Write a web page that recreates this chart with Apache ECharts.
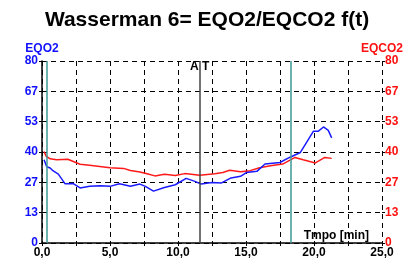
<!DOCTYPE html>
<html><head><meta charset="utf-8">
<script src="https://cdn.jsdelivr.net/npm/echarts@6/dist/echarts.min.js"></script>
<style>html,body{margin:0;padding:0;background:#fff}#c{width:414px;height:261px}</style>
</head><body><div id="c"></div>
<script>
const titleText = 'Wasserman 6= EQO2/EQCO2 f(t)';
const yTicks = [0, 13, 27, 40, 53, 67, 80];
const eqo2Time = [0.15,0.35,0.6,0.8,1.2,1.7,2.3,2.8,3.5,4.3,5.0,5.7,6.5,7.2,7.6,8.2,9.0,9.8,10.6,11.25,11.7,12.5,13.2,13.9,14.6,15.05,15.8,16.4,17.5,18.2,19.0,19.5,19.95,20.3,20.7,21.05,21.3];
const eqo2 = [36.6,33.5,33,31.8,30.3,26.0,26.1,24.2,24.9,25.2,24.9,26.0,24.9,25.9,24.9,22.8,24.4,25.6,28.4,27.1,25.9,26.6,26.4,28.6,29.3,31.0,31.5,34.7,35.4,37.6,39.8,44.7,49.1,49.1,51.0,49.5,46.2];
const eqco2Time = [0.15,0.3,0.6,1.08,1.9,2.8,3.5,5.0,6.0,6.5,7.2,7.8,8.3,9.0,9.8,10.5,11.6,12.7,13.3,13.8,14.6,15.3,16.0,16.8,17.7,18.6,19.2,20.1,20.8,21.3];
const eqco2 = [40.2,38.2,37.0,36.6,36.8,34.6,34.2,33.1,32.8,31.9,31.2,30.3,29.5,30.2,29.7,30.5,29.8,30.4,31.0,32.0,31.3,31.8,33.1,34.0,34.7,37.6,36.6,35.2,37.6,37.2];
const markers = [{t:0.35, c:'#3d9995'}, {t:11.6, c:'#444444'}, {t:18.3, c:'#3d9995'}];
const atLabel = 'A T';
const atTime = 11.6;

const chart = echarts.init(document.getElementById('c'), null, {renderer:'canvas'});
const font = 'Liberation Sans, Arial, sans-serif';
const dash = {type:[5,4], color:'#000', width:1};
const yFmt = v => String(Math.round(v));
const option = {
  animation:false,
  title:{text:titleText, left:'center', top:5, textStyle:{fontFamily:font, fontSize:21, fontWeight:'bold', color:'#000'}},
  grid:{left:42, right:32, top:61, bottom:18, containLabel:false},
  xAxis:{type:'value', min:0, max:25, interval:2.5,
    axisLine:{show:true, lineStyle:{color:'#000', width:1.5}},
    axisTick:{show:true, length:3, lineStyle:{color:'#000'}},
    axisLabel:{fontFamily:font, fontSize:12, fontWeight:'bold', color:'#000', margin:4,
      formatter: v => (Math.abs(v % 5) < 1e-6 ? v.toFixed(1).replace('.', ',') : '')},
    splitLine:{show:true, lineStyle:dash}},
  yAxis:[
    {type:'value', min:0, max:80, interval:80/6, position:'left',
      name:'EQO2', nameLocation:'end', nameGap:5,
      nameTextStyle:{fontFamily:font, fontSize:12, fontWeight:'bold', color:'#1010ff', align:'center'},
      axisLine:{show:true, lineStyle:{color:'#000', width:1.5}},
      axisTick:{show:true, length:3, lineStyle:{color:'#000'}},
      axisLabel:{fontFamily:font, fontSize:12, fontWeight:'bold', color:'#1010ff', margin:4, formatter:yFmt},
      splitLine:{show:true, lineStyle:dash}},
    {type:'value', min:0, max:80, interval:80/6, position:'right',
      name:'EQCO2', nameLocation:'end', nameGap:5,
      nameTextStyle:{fontFamily:font, fontSize:12, fontWeight:'bold', color:'#ff1010', align:'center'},
      axisLine:{show:false},
      axisTick:{show:true, length:3, lineStyle:{color:'#000'}},
      axisLabel:{fontFamily:font, fontSize:12, fontWeight:'bold', color:'#ff1010', margin:3, formatter:yFmt},
      splitLine:{show:false}}
  ],
  series:[
    {type:'line', name:'EQCO2', yAxisIndex:0, showSymbol:false, smooth:false,
      lineStyle:{color:'#ff1a1a', width:1.5}, data:eqco2Time.map((t,i)=>[t,eqco2[i]]), z:3},
    {type:'line', name:'EQO2', yAxisIndex:0, showSymbol:false, smooth:false,
      lineStyle:{color:'#1a1aff', width:1.5}, data:eqo2Time.map((t,i)=>[t,eqo2[i]]), z:4,
      markLine:{silent:true, symbol:'none', label:{show:false}, animation:false,
        data:markers.map(m=>({xAxis:m.t, lineStyle:{color:m.c, width:1.5, type:'solid'}}))}}
  ]
};
chart.setOption(option);
const atX = chart.convertToPixel({xAxisIndex:0}, atTime);
chart.setOption({graphic:[
  {type:'text', x:atX, y:61, style:{text:atLabel, fontFamily:font, fontSize:12, fontWeight:'bold', fill:'#000', align:'center', verticalAlign:'top'}, z:10},
  {type:'text', right:45, top:230, style:{text:'Tmpo [min]', fontFamily:font, fontSize:12, fontWeight:'bold', fill:'#000'}, z:10}
]});
</script></body></html>
